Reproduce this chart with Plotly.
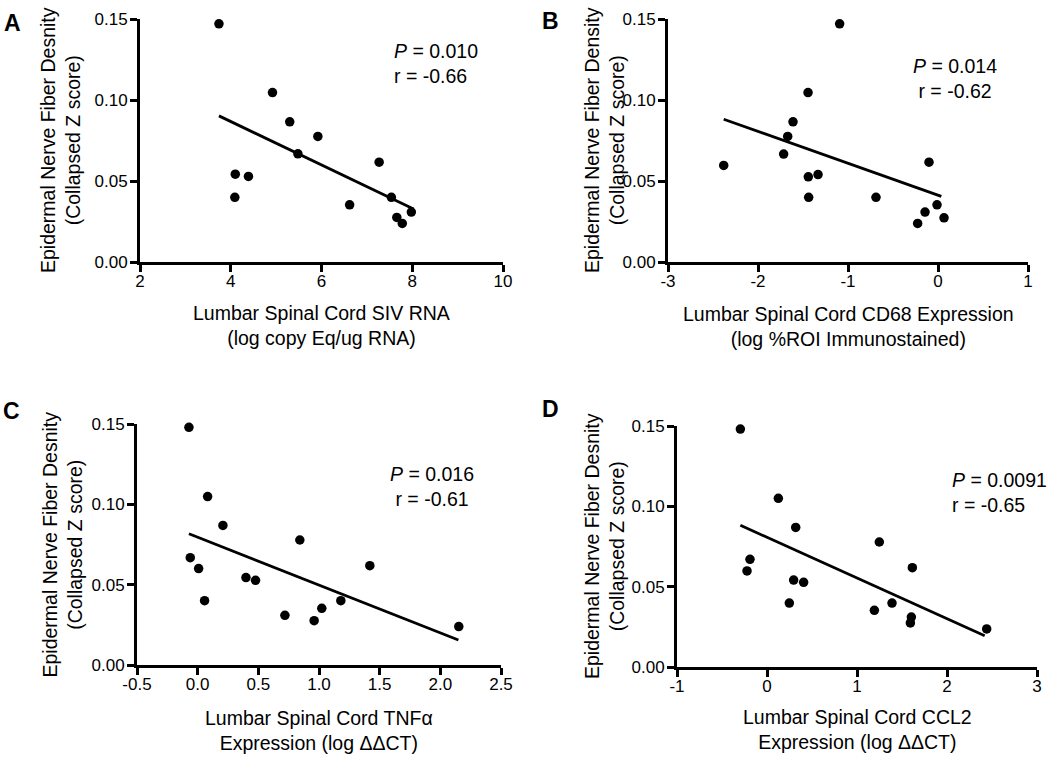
import plotly.graph_objects as go

W, H = 1050, 757

# ---- data ----
A_x = [3.74, 4.92, 5.30, 5.92, 5.48, 4.10, 4.39, 4.09, 7.27, 6.62, 7.54, 7.66, 7.78, 7.98]
A_y = [0.147, 0.1046, 0.0865, 0.0775, 0.0668, 0.0542, 0.0528, 0.0399, 0.0616, 0.0353, 0.0399, 0.0275, 0.0238, 0.0308]
A_fit_x = [3.74, 8.03]
A_fit_y = [0.0902, 0.0327]

B_x = [-1.093, -1.444, -1.611, -1.670, -1.715, -2.381, -1.441, -1.333, -1.437, -0.689, -0.100, -0.011, -0.144, -0.226, 0.067]
B_y = [0.147, 0.1046, 0.0865, 0.0775, 0.0666, 0.0596, 0.0526, 0.054, 0.0399, 0.0399, 0.0616, 0.0353, 0.0308, 0.0238, 0.0273]
B_fit_x = [-2.381, 0.037]
B_fit_y = [0.0881, 0.0405]

C_x = [-0.072, 0.082, 0.208, 0.842, -0.061, 0.008, 0.057, 0.398, 0.477, 0.719, 0.960, 1.023, 1.180, 1.419, 2.152]
C_y = [0.1479, 0.1048, 0.0869, 0.0778, 0.0668, 0.060, 0.040, 0.0544, 0.0527, 0.0309, 0.0276, 0.0353, 0.040, 0.0618, 0.0239]
C_fit_x = [-0.072, 2.149]
C_fit_y = [0.0817, 0.0156]

D_x = [-0.296, 0.126, 0.319, 1.248, -0.189, -0.222, 0.296, 0.407, 0.248, 1.193, 1.389, 1.615, 1.604, 1.593, 2.441]
D_y = [0.1481, 0.105, 0.0869, 0.0778, 0.067, 0.0598, 0.0541, 0.0527, 0.0398, 0.0353, 0.0398, 0.0618, 0.0311, 0.0274, 0.0237]
D_fit_x = [-0.296, 2.419]
D_fit_y = [0.0882, 0.0195]

y_ticks = [0.00, 0.05, 0.10, 0.15]
y_ticktext = ["0.00", "0.05", "0.10", "0.15"]

A_xticks = [2, 4, 6, 8, 10]
B_xticks = [-3, -2, -1, 0, 1]
C_xticks = [-0.5, 0.0, 0.5, 1.0, 1.5, 2.0, 2.5]
C_xticktext = ["-0.5", "0.0", "0.5", "1.0", "1.5", "2.0", "2.5"]
D_xticks = [-1, 0, 1, 2, 3]

ylab_desnity = "Epidermal Nerve Fiber Desnity<br>(Collapsed Z score)"
ylab_density = "Epidermal Nerve Fiber Density<br>(Collapsed Z score)"
xlab_A = "Lumbar Spinal Cord SIV RNA<br>(log copy Eq/ug RNA)"
xlab_B = "Lumbar Spinal Cord CD68 Expression<br>(log %ROI Immunostained)"
xlab_C = "Lumbar Spinal Cord TNFα<br>Expression (log ΔΔCT)"
xlab_D = "Lumbar Spinal Cord CCL2<br>Expression (log ΔΔCT)"

stat_A = "<i>P</i> = 0.010<br>r = -0.66"
stat_B = "<i>P</i> = 0.014<br>r = -0.62"
stat_C = "<i>P</i> = 0.016<br>r = -0.61"
stat_D = "<i>P</i> = 0.0091<br>r = -0.65"

FONT = "Liberation Sans, Arial, sans-serif"
FS_TICK = 17
FS_TITLE = 19.5

# panel layout in page pixels: (x_left, x_right, y_top, y_bottom)
panels = [
    dict(name="A", box=(140, 503, 19, 262), xr=[2, 10], xt=A_xticks, xtt=[str(v) for v in A_xticks],
         x=A_x, y=A_y, fx=A_fit_x, fy=A_fit_y, ylab=ylab_desnity, xlab=xlab_A,
         ylab_x=60.5, xlab_y=325.5, stat=stat_A, stat_pos=(392, 63.5), stat_anchor="left",
         letter_pos=(12, 23)),
    dict(name="B", box=(668, 1028, 19, 262), xr=[-3, 1], xt=B_xticks, xtt=[str(v) for v in B_xticks],
         x=B_x, y=B_y, fx=B_fit_x, fy=B_fit_y, ylab=ylab_density, xlab=xlab_B,
         ylab_x=604.5, xlab_y=326.5, stat=stat_B, stat_pos=(955, 78.5), stat_anchor="center",
         letter_pos=(550, 21)),
    dict(name="C", box=(137, 501, 424, 665), xr=[-0.5, 2.5], xt=C_xticks, xtt=C_xticktext,
         x=C_x, y=C_y, fx=C_fit_x, fy=C_fit_y, ylab=ylab_desnity, xlab=xlab_C,
         ylab_x=62, xlab_y=730.5, stat=stat_C, stat_pos=(432, 486), stat_anchor="center",
         letter_pos=(11, 411)),
    dict(name="D", box=(677, 1037, 426, 667), xr=[-1, 3], xt=D_xticks, xtt=[str(v) for v in D_xticks],
         x=D_x, y=D_y, fx=D_fit_x, fy=D_fit_y, ylab=ylab_desnity, xlab=xlab_D,
         ylab_x=604.5, xlab_y=729.5, stat=stat_D, stat_pos=(950, 492), stat_anchor="left",
         letter_pos=(550, 409)),
]

fig = go.Figure()
annotations = []
layout_axes = {}

def px_x(v):
    return v / W

def px_y(v):
    return 1 - v / H

for i, p in enumerate(panels, start=1):
    xa = "x" if i == 1 else f"x{i}"
    ya = "y" if i == 1 else f"y{i}"
    xl, xr, yt, yb = p["box"]
    fig.add_trace(go.Scatter(x=p["x"], y=p["y"], mode="markers", xaxis=xa, yaxis=ya,
                             marker=dict(color="black", size=9.5, line=dict(width=0)),
                             showlegend=False, cliponaxis=False))
    fig.add_trace(go.Scatter(x=p["fx"], y=p["fy"], mode="lines", xaxis=xa, yaxis=ya,
                             line=dict(color="black", width=2.8), showlegend=False))
    common = dict(showline=True, linewidth=3, linecolor="black", ticks="outside", ticklen=7,
                  tickwidth=3, tickcolor="black", showgrid=False, zeroline=False,
                  automargin=False,
                  tickfont=dict(family=FONT, size=FS_TICK, color="black"), fixedrange=True)
    layout_axes["xaxis" if i == 1 else f"xaxis{i}"] = dict(
        domain=[px_x(xl), px_x(xr)], range=p["xr"], tickmode="array", tickvals=p["xt"],
        ticktext=p["xtt"], anchor=ya, ticklabelstandoff=-5, **common)
    layout_axes["yaxis" if i == 1 else f"yaxis{i}"] = dict(
        domain=[px_y(yb), px_y(yt)], range=[0, 0.15], tickmode="array", tickvals=y_ticks,
        ticktext=y_ticktext, anchor=xa, ticklabelstandoff=-1, **common)
    annotations.append(dict(text=p["ylab"], xref="paper", yref="paper", x=px_x(p["ylab_x"]),
                            y=px_y((yt + yb) / 2), xanchor="center", yanchor="middle",
                            textangle=-90, showarrow=False, align="center",
                            font=dict(family=FONT, size=FS_TITLE, color="black")))
    annotations.append(dict(text=p["xlab"], xref="paper", yref="paper", x=px_x((xl + xr) / 2),
                            y=px_y(p["xlab_y"]), xanchor="center", yanchor="middle",
                            showarrow=False, align="center",
                            font=dict(family=FONT, size=FS_TITLE, color="black")))
    sx, sy = p["stat_pos"]
    annotations.append(dict(text=p["stat"], xref="paper", yref="paper", x=px_x(sx), y=px_y(sy),
                            xanchor=p["stat_anchor"], yanchor="middle", showarrow=False,
                            align="left" if p["stat_anchor"] == "left" else "center",
                            font=dict(family=FONT, size=FS_TITLE, color="black")))
    lx, ly = p["letter_pos"]
    annotations.append(dict(text="<b>" + p["name"] + "</b>", xref="paper", yref="paper",
                            x=px_x(lx), y=px_y(ly), xanchor="center", yanchor="middle",
                            showarrow=False, font=dict(family=FONT, size=23, color="black")))

fig.update_layout(template="none", width=W, height=H, margin=dict(l=0, r=0, t=0, b=0, pad=0),
                  paper_bgcolor="white", plot_bgcolor="white", hovermode=False,
                  annotations=annotations, showlegend=False, **layout_axes)

fig.write_html("out.html", config={"displayModeBar": False, "staticPlot": True},
               post_script="document.documentElement.style.margin='0';document.body.style.margin='0';document.body.style.padding='0';document.body.style.overflow='hidden';")
